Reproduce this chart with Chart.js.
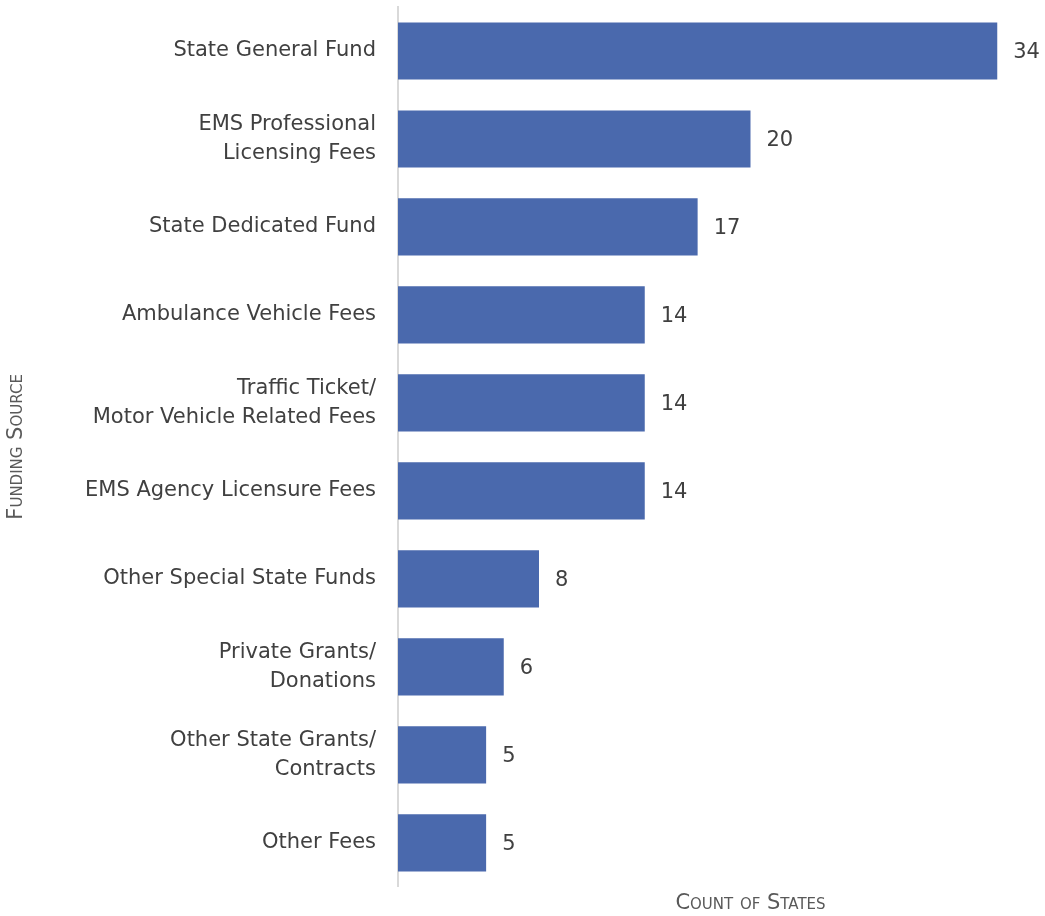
<!DOCTYPE html>
<html>
<head>
<meta charset="utf-8">
<script src="https://cdn.jsdelivr.net/npm/chart.js@4"></script>
<style>
  body { margin: 0; overflow: hidden; background: #fff; }
  #wrap { width: 1110px; height: 916px; }
</style>
</head>
<body>
<div id="wrap"><canvas id="chart"></canvas></div>
<script>
var categories = [
    'State General Fund',
    ['EMS Professional', 'Licensing Fees'],
    'State Dedicated Fund',
    'Ambulance Vehicle Fees',
    ['Traffic Ticket/', 'Motor Vehicle Related Fees'],
    'EMS Agency Licensure Fees',
    'Other Special State Funds',
    ['Private Grants/', 'Donations'],
    ['Other State Grants/', 'Contracts'],
    'Other Fees'
];
var counts = [34, 20, 17, 14, 14, 14, 8, 6, 5, 5];

var textColor = '#404040';
var fontFamily = "'DejaVu Sans', sans-serif";

// draw the count after each bar
var valueLabels = {
    id: 'valueLabels',
    afterDatasetsDraw: function(chart){
        var ctx = chart.ctx;
        var meta = chart.getDatasetMeta(0);
        ctx.save();
        ctx.font = '21px ' + fontFamily;
        ctx.fillStyle = textColor;
        ctx.textAlign = 'left';
        ctx.textBaseline = 'middle';
        meta.data.forEach(function(bar, i){
            ctx.fillText(counts[i], bar.x + 16, bar.y + 2);
        });
        ctx.restore();
    }
};

var ctx = document.getElementById('chart');
var myChart = new Chart(ctx, {
    type: 'bar',
    data: {
        labels: categories,
        datasets: [{
            data: counts,
            backgroundColor: '#4a69ad',
            borderWidth: 0,
            barPercentage: 0.65,
            categoryPercentage: 1
        }]
    },
    options: {
        indexAxis: 'y',
        responsive: true,
        maintainAspectRatio: false,
        animation: false,
        layout: { padding: { top: 7, right: 7, bottom: 0, left: 0 } },
        plugins: {
            legend: { display: false },
            tooltip: { enabled: false }
        },
        scales: {
            x: {
                min: 0,
                max: 40,
                ticks: { display: false },
                grid: { display: false, drawTicks: false },
                border: { display: false },
                title: {
                    display: true,
                    text: 'Count of States',
                    color: '#595959',
                    font: { family: fontFamily, size: 21, weight: 'small-caps' },
                    padding: { top: 4, bottom: 0 }
                }
            },
            y: {
                afterFit: function(axis){
                    axis.width = 398;
                    axis.paddingTop = 0;
                    axis.paddingBottom = 0;
                },
                ticks: {
                    color: textColor,
                    padding: 22,
                    font: { family: fontFamily, size: 21, lineHeight: 1.4 }
                },
                grid: { display: false, drawTicks: false },
                border: { display: true, color: '#d9d9d9', width: 2 },
                title: {
                    display: true,
                    text: 'Funding Source',
                    color: '#595959',
                    font: { family: fontFamily, size: 21, weight: 'small-caps' },
                    padding: { top: 4, bottom: 0 }
                }
            }
        }
    },
    plugins: [valueLabels]
});
</script>
</body>
</html>
